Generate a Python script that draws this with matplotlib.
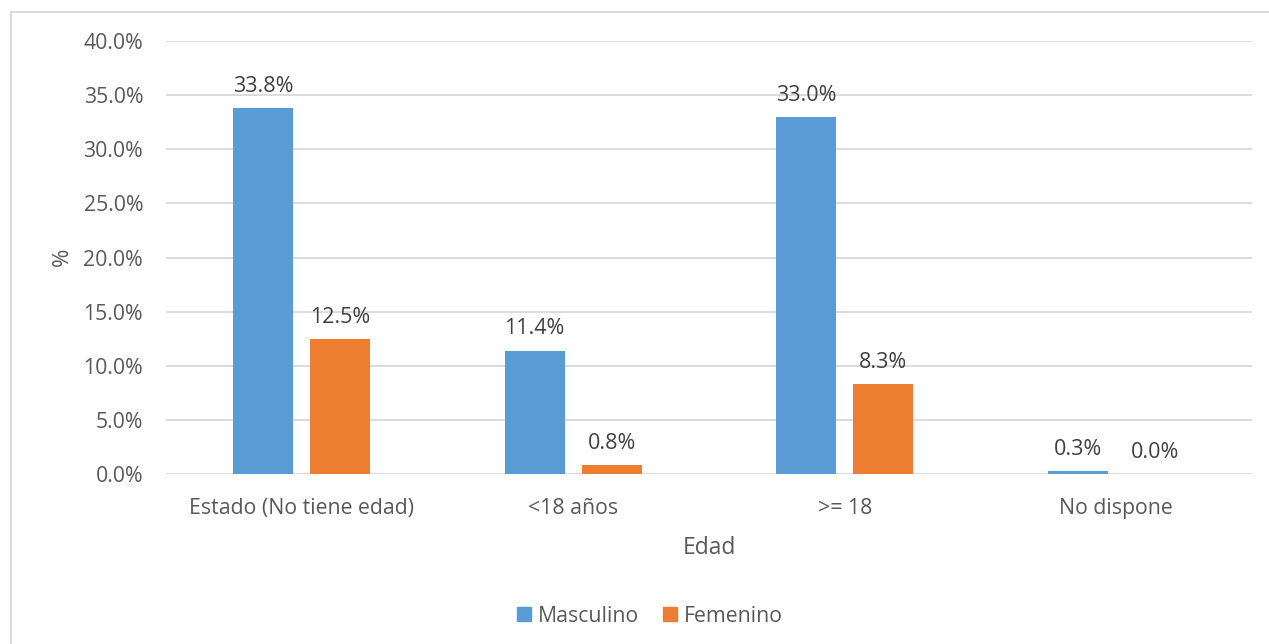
import numpy as np
import matplotlib.pyplot as plt
from matplotlib.lines import Line2D
from matplotlib.patches import Patch

plt.rcParams['font.family'] = ['Open Sans', 'DejaVu Sans']

categorias = ['Estado (No tiene edad)', '<18 años', '>= 18', 'No dispone']
masculino = [33.8, 11.4, 33.0, 0.3]
femenino = [12.5, 0.8, 8.3, 0.0]
yticks = [0, 5, 10, 15, 20, 25, 30, 35, 40]

azul = '#5B9BD5'
naranja = '#ED7D31'
texto = '#595959'

fig = plt.figure(figsize=(12.69, 6.44), dpi=100)
ax = fig.add_axes([166 / 1269, 1 - 474 / 644, (1252 - 166) / 1269, (474 - 41) / 644])

x = np.arange(len(categorias))
w = 0.222
off = 0.142
b1 = ax.bar(x - off, masculino, w, color=azul, zorder=3)
b2 = ax.bar(x + off, femenino, w, color=naranja, zorder=3)

for bars, vals in ((b1, masculino), (b2, femenino)):
    for r, v in zip(bars, vals):
        ax.annotate(f'{v:.1f}%', (r.get_x() + r.get_width() / 2, v),
                    xytext=(0, 8), textcoords='offset points',
                    ha='center', va='bottom', fontsize=15.5, color='#404040')

ax.set_xlim(-0.5, len(categorias) - 0.5)
ax.set_ylim(0, 40)
ax.set_yticks(yticks)
ax.set_yticklabels([f'{t:.1f}%' for t in yticks])
ax.set_xticks(x)
ax.set_xticklabels(categorias)
ax.tick_params(length=0, labelsize=15.3, labelcolor=texto)
ax.tick_params(axis='y', pad=16.5)
ax.tick_params(axis='x', pad=17)
ax.grid(axis='y', color='#D9D9D9', linewidth=1.3, zorder=0)
for s in ax.spines.values():
    s.set_visible(False)

ax.set_xlabel('Edad', fontsize=16.5, color=texto, labelpad=12.5)
fig.text(62 / 1269, 1 - 257 / 644, '%', rotation=90, fontsize=16, color=texto,
         ha='center', va='center')

handles = [Patch(color=azul, label='Masculino'), Patch(color=naranja, label='Femenino')]
fig.legend(handles=handles, loc='center', bbox_to_anchor=(650 / 1269, 1 - 616 / 644),
           ncol=2, frameon=False, fontsize=15.3, labelcolor=texto,
           handlelength=0.65, handleheight=0.65, handletextpad=0.3, columnspacing=1.15)

# marco exterior (solo izquierda y arriba visibles)
fig.add_artist(Line2D([10.5 / 1269, 10.5 / 1269], [0, 1 - 12 / 644], color='#D9D9D9', lw=1.3))
fig.add_artist(Line2D([10.5 / 1269, 1], [1 - 12 / 644, 1 - 12 / 644], color='#D9D9D9', lw=1.3))

fig.savefig('out.png', dpi=100, facecolor='white')
